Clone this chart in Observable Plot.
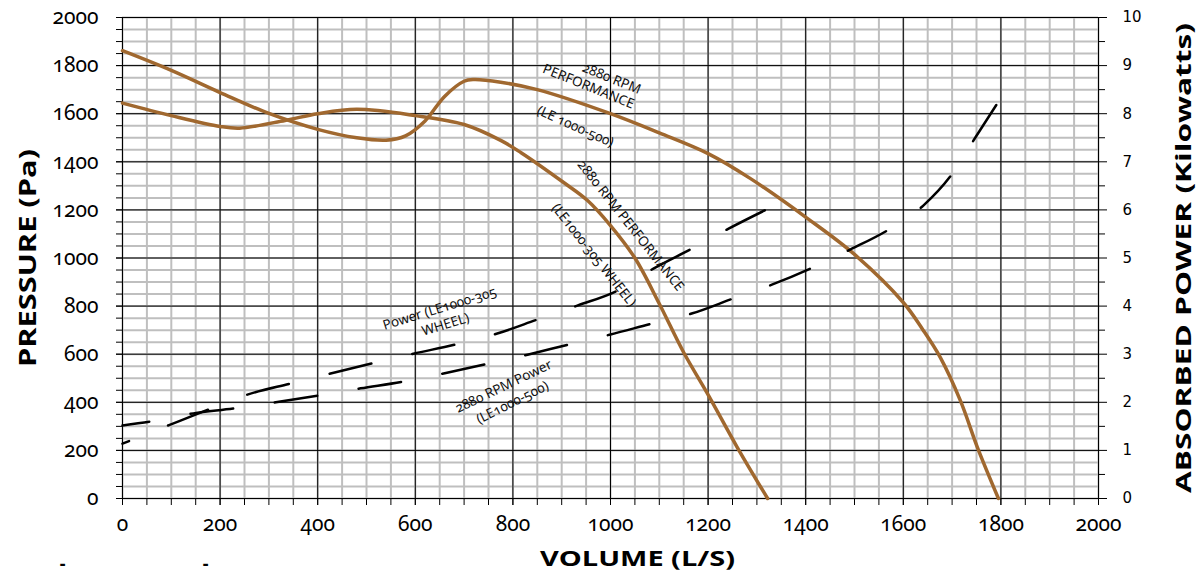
<!DOCTYPE html>
<html><head><meta charset="utf-8">
<script src="https://cdn.jsdelivr.net/npm/d3@7"></script>
<script src="https://cdn.jsdelivr.net/npm/@observablehq/plot@0.6"></script>
<style>
body{margin:0;background:#fff;}
#chart svg{display:block}
</style></head><body><div id="chart"></div>
<script>
// Pressure curve, LE1000-305 wheel (L/s, Pa)
const volA  = [0, 100, 200, 240, 333, 400, 480, 600, 700, 775, 816, 904, 953, 1000, 1050, 1100, 1150, 1201, 1260, 1322];
const presA = [1644, 1592, 1547, 1540, 1572, 1600, 1618, 1592, 1555, 1489, 1439, 1314, 1239, 1135, 1000, 810, 607, 428, 212, 0];
// Pressure curve, LE1000-500 (L/s, Pa)
const volB  = [0, 100, 200, 300, 400, 480, 540, 580, 620, 660, 700, 720, 775, 850, 1000, 1100, 1200, 1287, 1404, 1500, 1600, 1640, 1676, 1717, 1752, 1795];
const presB = [1862, 1780, 1688, 1601, 1535, 1500, 1490, 1508, 1570, 1672, 1735, 1742, 1731, 1700, 1600, 1520, 1434, 1330, 1164, 1015, 815, 702, 586, 407, 212, 0];
// Absorbed power, LE1000-305 wheel (L/s, kW)
const volP1 = [0, 94, 176, 256, 344, 512, 596, 682, 768, 850, 932, 1014, 1088, 1168, 1242, 1324];
const kwP1  = [1.14, 1.52, 1.85, 2.16, 2.39, 2.81, 3.01, 3.20, 3.43, 3.72, 4.01, 4.32, 4.78, 5.20, 5.61, 6.03];
// Absorbed power, LE1000-500 (L/s, kW)
const volP2 = [0, 57, 145, 227, 314, 402, 488, 574, 658, 744, 830, 914, 1000, 1086, 1168, 1252, 1332, 1414, 1492, 1570, 1641, 1701, 1748, 1795];
const kwP2  = [1.52, 1.60, 1.77, 1.87, 2.00, 2.14, 2.29, 2.43, 2.60, 2.79, 2.99, 3.20, 3.41, 3.64, 3.85, 4.16, 4.45, 4.80, 5.18, 5.59, 6.09, 6.76, 7.51, 8.25];

const volTicks = d3.range(0, 2001, 200);
const presTicks = d3.range(0, 2001, 200);
const kwTicks = d3.range(0, 11, 1);
const kwMinor = d3.range(0.5, 10, 1);
const PA_PER_KW = 200;

const notes = [
  {text: "2880 RPM", v: 1002, p: 1746, r: 22},
  {text: "PERFORMANCE", v: 955, p: 1713, r: 22},
  {text: "(LE 1000-500)", v: 928, p: 1547, r: 24},
  {text: "2880 RPM PERFORMANCE", v: 1041, p: 1135, r: 51.6},
  {text: "(LE1000-305 WHEEL)", v: 966, p: 1012, r: 51.7},
  {text: "Power (LE1000-305", v: 650, p: 790, r: -17},
  {text: "WHEEL)", v: 662, p: 723, r: -17},
  {text: "2880 RPM Power", v: 781, p: 466, r: -25.6},
  {text: "(LE1000-500)", v: 799, p: 399, r: -26.6}
];

const zip = (xs, ys, k = 1) => xs.map((x, i) => ({x, y: ys[i] * k}));
const A = zip(volA, presA), B = zip(volB, presB);
const P1 = zip(volP1, kwP1, PA_PER_KW), P2 = zip(volP2, kwP2, PA_PER_KW);

const brown = "#a0682f";
const NUM_FAMILY = "'Noto Sans', Roboto, sans-serif";
const numFont = {fontFamily: NUM_FAMILY, fontSize: 21, fontWeight: "normal"};
const titleFont = {fontFamily: "'Open Sans', sans-serif", fontWeight: "bold", textAnchor: "middle", lineAnchor: "middle"};
const fmt = d3.format("d");

const chart = Plot.plot({
  width: 1197, height: 574,
  marginLeft: 122, marginRight: 99, marginTop: 17, marginBottom: 76,
  style: {background: "#fff", color: "#000", fontFamily: "'Noto Sans', sans-serif"},
  x: {domain: [0, 2000]},
  y: {domain: [0, 2000]},
  marks: [
    Plot.gridX(d3.range(0, 2001, 50), {stroke: "#bfbfbf", strokeOpacity: 1, strokeWidth: 2}),
    Plot.gridY(d3.range(0, 2001, 50), {stroke: "#bfbfbf", strokeOpacity: 1, strokeWidth: 2}),
    Plot.gridX(volTicks, {stroke: "#000", strokeOpacity: 1, strokeWidth: 1}),
    Plot.gridY(presTicks, {stroke: "#000", strokeOpacity: 1, strokeWidth: 1}),
    Plot.axisX(d3.range(0, 2001, 50), {tickSize: 7, tickFormat: () => "", label: null}),
    Plot.axisX(volTicks, {tickSize: 7, tickPadding: 11, label: null, tickFormat: fmt, ...numFont}),
    Plot.axisY(d3.range(0, 2001, 50), {tickSize: 6, tickFormat: () => "", label: null}),
    Plot.axisY(presTicks, {tickSize: 6, tickPadding: 18, label: null, tickFormat: fmt, ...numFont}),
    Plot.axisY(kwMinor.map(k => k * PA_PER_KW), {anchor: "right", tickSize: 6, tickFormat: () => "", label: null}),
    Plot.axisY(kwTicks.map(k => k * PA_PER_KW), {anchor: "right", tickSize: 8, tickPadding: 16, label: null,
      tickFormat: d => fmt(d / PA_PER_KW), fontFamily: "DejaVu Sans", fontSize: 15}),
    Plot.line(A, {x: "x", y: "y", stroke: brown, strokeWidth: 3.5, curve: "catmull-rom"}),
    Plot.line(B, {x: "x", y: "y", stroke: brown, strokeWidth: 3.5, curve: "catmull-rom"}),
    Plot.line(P1, {x: "x", y: "y", stroke: "#000", strokeWidth: 2.5, curve: "monotone-x", strokeDasharray: "43,42", strokeDashoffset: 36}),
    Plot.line(P2, {x: "x", y: "y", stroke: "#000", strokeWidth: 2.5, curve: "monotone-x", strokeDasharray: "43,42", strokeDashoffset: 16}),
    Plot.text(notes, {x: "v", y: "p", text: "text", rotate: "r", fontFamily: "'Noto Sans', sans-serif", fontSize: 13.5, fill: "#111", className: "note"}),
    Plot.text(["PRESSURE (Pa)"], {frameAnchor: "left", dx: -94, rotate: -90, fontSize: 24, className: "ttl-l", ...titleFont}),
    Plot.text(["ABSORBED POWER (Kilowatts)"], {frameAnchor: "right", dx: 85, rotate: -90, fontSize: 22, className: "ttl-r", ...titleFont}),
    Plot.text(["VOLUME (L/S)"], {frameAnchor: "bottom", dx: 27, dy: 61, fontSize: 21, className: "ttl-b", ...titleFont}),
    Plot.text(["-"], {frameAnchor: "bottom-left", dx: -60, dy: 66, fontSize: 18, fontWeight: "bold", textAnchor: "middle", lineAnchor: "middle"}),
    Plot.text(["-"], {frameAnchor: "bottom-left", dx: 83, dy: 66, fontSize: 18, fontWeight: "bold", textAnchor: "middle", lineAnchor: "middle"})
  ]
});
const svg = d3.select(chart);
// tick labels on the pressure and volume axes: larger, old-style figures
svg.selectAll("g").filter(function() { return this.getAttribute("font-family") === NUM_FAMILY; })
  .attr("font-size", 21).style("font-size", "21px")
  .selectAll("text").style("font-variant-numeric", "oldstyle-nums");
svg.selectAll("g.note text").style("font-variant-numeric", "oldstyle-nums");
// stretch titles to the original's lengths
svg.selectAll("g.ttl-l text").attr("textLength", 218).attr("lengthAdjust", "spacingAndGlyphs");
svg.selectAll("g.ttl-r text").attr("textLength", 470).attr("lengthAdjust", "spacingAndGlyphs");
svg.selectAll("g.ttl-b text").attr("textLength", 195).attr("lengthAdjust", "spacingAndGlyphs");
document.getElementById("chart").append(chart);
</script></body></html>
